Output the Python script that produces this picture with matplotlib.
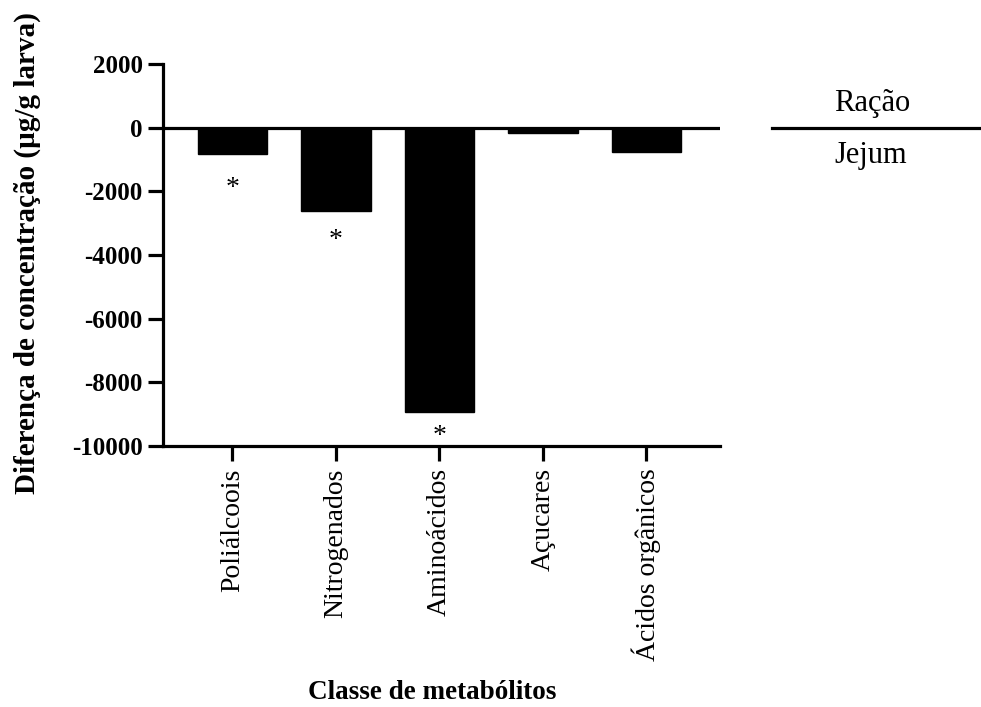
import numpy as np
import matplotlib
matplotlib.use("Agg")
import matplotlib.pyplot as plt
from matplotlib.lines import Line2D

plt.rcParams['font.family'] = ['Liberation Serif', 'DejaVu Serif']

# Data
classes = ["Poliálcoois", "Nitrogenados", "Aminoácidos", "Açucares", "Ácidos orgânicos"]
diff = [-815, -2620, -8930, -160, -750]          # Ração - Jejum (µg/g larva)
signif = [True, True, True, False, False]
star_y = [-1700, -3330, -9490, 0, 0]            # where the asterisks sit
yticks = [2000, 0, -2000, -4000, -6000, -8000, -10000]

fig = plt.figure(figsize=(9.81, 7.07), dpi=100)
ax = fig.add_axes([163 / 981, 1 - 446 / 707, (720 - 163) / 981, (446 - 64) / 707])

x = np.arange(len(classes))
ax.bar(x, diff, width=0.67, color="black", edgecolor="black", zorder=2)
ax.axhline(0, color="black", lw=2.3, zorder=3)

# significance marks
fs_star = 20
for xi, yi, s in zip(x, star_y, signif):
    if s:
        ax.annotate("*", xy=(xi, yi), xytext=(0, -0.47 * fs_star), textcoords="offset points",
                    ha="center", va="baseline", fontsize=fs_star)

ax.set_xlim(-0.67, 4.71)
ax.set_ylim(-10000, 2000)
ax.set_yticks(yticks)
ax.set_yticklabels([str(t) for t in yticks], fontsize=18, fontweight="bold")
ax.set_xticks(x)
ax.set_xticklabels(classes, rotation=90, fontsize=20)

for side in ["top", "right"]:
    ax.spines[side].set_visible(False)
for side in ["left", "bottom"]:
    ax.spines[side].set_linewidth(2.3)
ax.tick_params(axis="both", length=11, width=2.3, color="black")
ax.tick_params(axis="y", pad=3.5)
ax.tick_params(axis="x", pad=5)

ax.set_ylabel("Diferença de concentração (µg/g larva)", fontsize=21, fontweight="bold")
ax.yaxis.set_label_coords(-0.219, 0.505)
ax.set_xlabel("Classe de metabólitos", fontsize=19.5, fontweight="bold")
ax.xaxis.set_label_coords(0.483, -0.612)

# legend-like label: Ração over Jejum
fig.add_artist(Line2D([772 / 981, 1.0], [1 - 128 / 707, 1 - 128 / 707], color="black", lw=2.3))
fig.text(872 / 981, 1 - 103 / 707, "Ração", ha="center", va="center", fontsize=22)
fig.text(871 / 981, 1 - 156 / 707, "Jejum", ha="center", va="center", fontsize=22)

fig.savefig("out.png", dpi=100)
